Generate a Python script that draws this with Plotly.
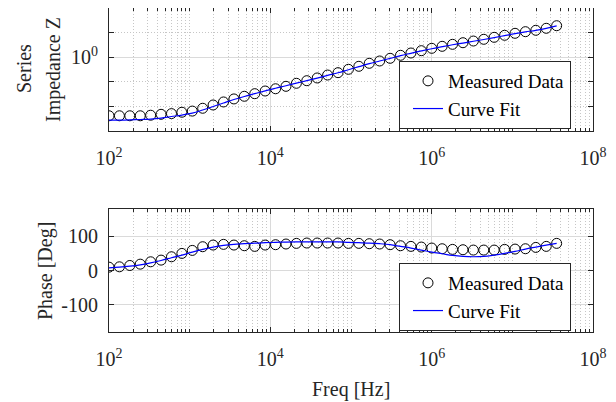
import plotly.graph_objects as go

# ---------------- data ----------------
freq = [100, 134.6, 181.2, 243.9, 328.3, 441.9, 594.8, 800.6, 1078, 1450,
        1952, 2628, 3537, 4761, 6409, 8627, 11610, 15630, 21040, 28320,
        38120, 51310, 69070, 92970, 125100, 168400, 226700, 305200, 410800, 552900,
        744300, 1002000, 1349000, 1815000, 2443000, 3289000, 4427000, 5959000, 8021000, 10800000,
        14530000, 19560000, 26330000, 35440000]

z_meas = [0.192, 0.192, 0.192, 0.192, 0.195, 0.200, 0.204, 0.212, 0.219, 0.237,
          0.260, 0.283, 0.308, 0.332, 0.357, 0.385, 0.410, 0.439, 0.478, 0.514,
          0.555, 0.603, 0.644, 0.708, 0.770, 0.838, 0.894, 0.964, 1.049, 1.119,
          1.194, 1.276, 1.350, 1.428, 1.494, 1.566, 1.644, 1.738, 1.840, 1.945,
          2.036, 2.117, 2.239, 2.408]

z_fit = [0.170, 0.170, 0.171, 0.173, 0.175, 0.180, 0.188, 0.196, 0.207, 0.226,
         0.249, 0.275, 0.303, 0.330, 0.357, 0.386, 0.416, 0.446, 0.480, 0.515,
         0.553, 0.596, 0.642, 0.700, 0.762, 0.830, 0.893, 0.962, 1.040, 1.110,
         1.185, 1.262, 1.335, 1.410, 1.480, 1.555, 1.635, 1.725, 1.825, 1.930,
         2.025, 2.115, 2.235, 2.400]

phase_meas = [9.8, 10.8, 14.7, 18.6, 25.5, 30.4, 40.2, 50.0, 58.8, 69.6,
              74.5, 76.5, 74.5, 72.5, 70.6, 74.5, 75.5, 77.5, 79.4, 80.4,
              80.4, 80.4, 80.4, 79.4, 79.4, 78.4, 77.5, 75.5, 72.5, 70.6,
              68.6, 65.7, 63.7, 61.8, 60.8, 59.8, 59.8, 59.8, 61.8, 62.7,
              63.7, 67.6, 70.6, 79.4]

phase_fit = [7.8, 9.8, 12.7, 16.7, 22.5, 29.4, 37.3, 45.1, 53.9, 61.8,
             68.6, 73.5, 76.5, 78.4, 80.4, 81.4, 82.4, 83.3, 83.8, 83.8,
             83.8, 83.8, 83.8, 82.4, 81.4, 80.4, 78.4, 75.5, 70.6, 65.7,
             59.8, 53.9, 49.0, 44.1, 41.2, 40.2, 41.2, 45.1, 50.0, 55.9,
             62.7, 68.6, 74.5, 79.4]

x_tickvals = [1e2, 1e4, 1e6, 1e8]
x_ticktext = ["10<sup>2</sup>", "10<sup>4</sup>", "10<sup>6</sup>", "10<sup>8</sup>"]
z_tickvals = [1]
z_ticktext = ["10<sup>0</sup>"]
z_minorvals = [0.25, 0.5, 2]
ph_tickvals = [-100, 0, 100]
ph_ticktext = ["-100", "0", "100"]

x_minorvals = [m * 10 ** e for e in range(2, 8) for m in range(2, 10)] + [1e3, 1e5, 1e7]

# ---------------- styling ----------------
FONT = "Liberation Serif, Times New Roman, Times, serif"
AX = "#262626"
GRID = "#dadada"
MGRID = "#c6c6c6"
MDASH = "1px,2px"
OFF = 8                      # page body margin
W, H = 616 - OFF, 402 - OFF  # figure size so that the page fills the window

def px_x(p):
    return (p - OFF) / W

def px_y(p):
    return min(1.0, max(0.0, 1 - (p - OFF) / H))

fig = go.Figure()

fig.add_trace(go.Scatter(x=freq, y=z_meas, mode="markers", name="Measured Data",
                         marker=dict(symbol="circle-open", size=10, color="black", line=dict(width=1)),
                         xaxis="x", yaxis="y", legend="legend"))
fig.add_trace(go.Scatter(x=freq, y=z_fit, mode="lines", name="Curve Fit",
                         line=dict(color="blue", width=1.2, shape="spline"),
                         xaxis="x", yaxis="y", legend="legend"))
fig.add_trace(go.Scatter(x=freq, y=phase_meas, mode="markers", name="Measured Data",
                         marker=dict(symbol="circle-open", size=10, color="black", line=dict(width=1)),
                         xaxis="x2", yaxis="y2", legend="legend2"))
fig.add_trace(go.Scatter(x=freq, y=phase_fit, mode="lines", name="Curve Fit",
                         line=dict(color="blue", width=1.2, shape="spline"),
                         xaxis="x2", yaxis="y2", legend="legend2"))

tickfont = dict(family=FONT, size=20, color=AX)

def xaxis_cfg(anchor):
    return dict(type="log", range=[2, 8], domain=[px_x(109), px_x(593)], anchor=anchor,
                automargin=False,
                tickmode="array", tickvals=x_tickvals, ticktext=x_ticktext,
                ticks="inside", ticklen=5, tickwidth=1, tickcolor=AX,
                showline=True, linecolor=AX, linewidth=1, mirror="allticks",
                showgrid=True, gridcolor=GRID, gridwidth=1, zeroline=False,
                tickfont=tickfont, ticklabelstandoff=9,
                minor=dict(tickmode="array", tickvals=x_minorvals, ticks="inside", ticklen=3,
                           tickcolor=AX, showgrid=True, gridcolor=MGRID, griddash=MDASH, gridwidth=1))

legend_common = dict(xanchor="left", yanchor="top", bordercolor=AX, borderwidth=1,
                     bgcolor="white", font=dict(family=FONT, size=19, color="black"),
                     tracegroupgap=0, indentation=8)

fig.update_layout(
    template="none",
    width=W, height=H, margin=dict(l=0, r=0, t=0, b=0, autoexpand=False),
    paper_bgcolor="white", plot_bgcolor="white",
    font=dict(family=FONT, size=20, color=AX),
    xaxis=xaxis_cfg("y"),
    xaxis2=xaxis_cfg("y2"),
    yaxis=dict(type="log", range=[-0.9024, 0.5976], domain=[px_y(131), px_y(8)], anchor="x",
               automargin=False,
               tickmode="array", tickvals=z_tickvals, ticktext=z_ticktext,
               ticks="inside", ticklen=5, tickwidth=1, tickcolor=AX,
               showline=True, linecolor=AX, linewidth=1, mirror="allticks",
               showgrid=True, gridcolor=GRID, zeroline=False,
               tickfont=tickfont, ticklabelstandoff=6,
               minor=dict(tickmode="array", tickvals=z_minorvals, ticks="inside", ticklen=5,
                          tickcolor=AX, showgrid=True, gridcolor=MGRID, griddash=MDASH, gridwidth=1)),
    yaxis2=dict(range=[-180, 180], domain=[px_y(332), px_y(209)], anchor="x2",
                automargin=False,
                tickmode="array", tickvals=ph_tickvals, ticktext=ph_ticktext,
                ticks="inside", ticklen=5, tickwidth=1, tickcolor=AX,
                showline=True, linecolor=AX, linewidth=1, mirror="allticks",
                showgrid=True, gridcolor=GRID, zeroline=False,
                tickfont=tickfont, ticklabelstandoff=6),
    legend=dict(x=px_x(399), y=px_y(61), **legend_common),
    legend2=dict(x=px_x(399), y=px_y(263), **legend_common),
    showlegend=True,
)

ann_font = dict(family=FONT, size=20, color=AX)
fig.add_annotation(text="Series", x=px_x(24), y=px_y(69), xref="paper", yref="paper",
                   showarrow=False, textangle=-90, xanchor="center", yanchor="middle", font=ann_font)
fig.add_annotation(text="Impedance Z", x=px_x(53), y=px_y(70), xref="paper", yref="paper",
                   showarrow=False, textangle=-90, xanchor="center", yanchor="middle", font=ann_font)
fig.add_annotation(text="Phase [Deg]", x=px_x(45), y=px_y(271), xref="paper", yref="paper",
                   showarrow=False, textangle=-90, xanchor="center", yanchor="middle", font=ann_font)
fig.add_annotation(text="Freq [Hz]", x=px_x(351), y=px_y(389), xref="paper", yref="paper",
                   showarrow=False, xanchor="center", yanchor="middle", font=ann_font)

fig.write_html("out.html")
